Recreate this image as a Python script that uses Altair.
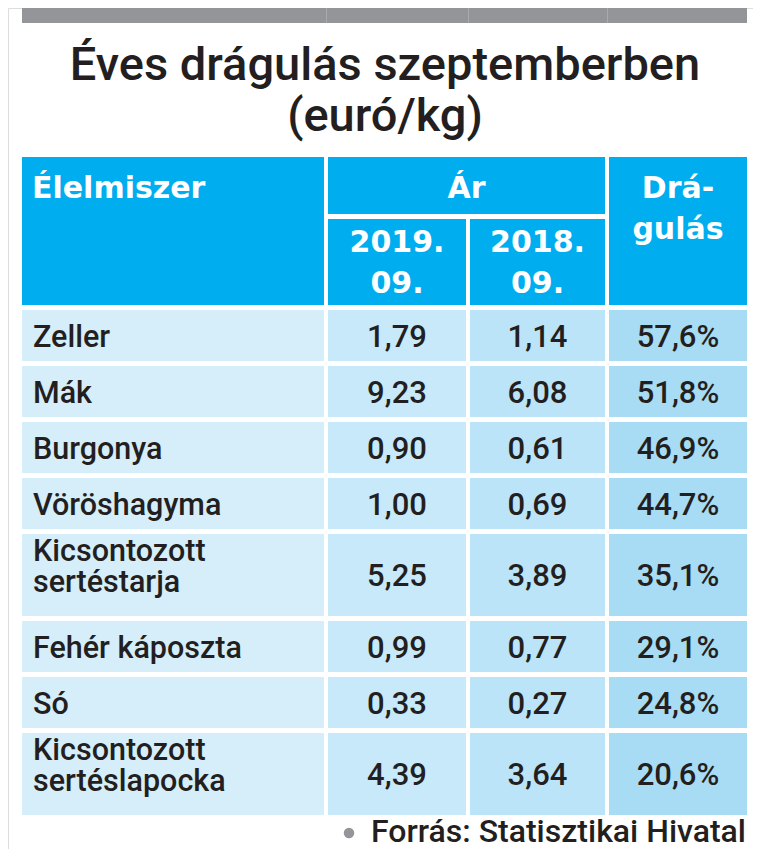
import altair as alt
import pandas as pd

# ---------------- data ----------------
title_lines = ["Éves drágulás szeptemberben", "(euró/kg)"]
head_food = "Élelmiszer"
head_price = "Ár"
head_change = "Drá-\ngulás"
head_years = ["2019.\n09.", "2018.\n09."]
foods = ["Zeller", "Mák", "Burgonya", "Vöröshagyma",
         "Kicsontozott\nsertéstarja", "Fehér káposzta", "Só",
         "Kicsontozott\nsertéslapocka"]
price_2019 = [1.79, 9.23, 0.90, 1.00, 5.25, 0.99, 0.33, 4.39]
price_2018 = [1.14, 6.08, 0.61, 0.69, 3.89, 0.77, 0.27, 3.64]
change_pct = [57.6, 51.8, 46.9, 44.7, 35.1, 29.1, 24.8, 20.6]
source = "Forrás: Statisztikai Hivatal"

# ---------------- layout (page pixels) ----------------
cols = [(22, 324), (328, 466), (470, 605), (609, 747)]
body_fill = ["#D6EEFA", "#C7E9F9", "#BCE4F8", "#A8DCF5"]
HEAD = "#00AEEF"
GRAY = "#939598"
DARK = "#231F20"
BODY_FONT = "Roboto"
head_top, head_mid, sub_top, head_bot = 157, 214, 219, 305
row_top0, single_h, double_h, gap = 310, 51, 82, 5

def fmt(v, d):
    return f"{v:.{d}f}".replace(".", ",")

rects = []
rects.append(dict(x=22, x2=747, y=8, y2=23, c=GRAY))
for xs in (326, 468, 607):
    rects.append(dict(x=xs, x2=xs + 1, y=8, y2=23, c="#A9AAAD"))
rects.append(dict(x=cols[0][0], x2=cols[0][1], y=head_top, y2=head_bot, c=HEAD))
rects.append(dict(x=cols[1][0], x2=cols[2][1], y=head_top, y2=head_mid, c=HEAD))
rects.append(dict(x=cols[1][0], x2=cols[1][1], y=sub_top, y2=head_bot, c=HEAD))
rects.append(dict(x=cols[2][0], x2=cols[2][1], y=sub_top, y2=head_bot, c=HEAD))
rects.append(dict(x=cols[3][0], x2=cols[3][1], y=head_top, y2=head_bot, c=HEAD))

name_left, body_center = [], []
top = row_top0
for i, name in enumerate(foods):
    two = "\n" in name
    h = double_h if two else single_h
    for j, (a, b) in enumerate(cols):
        rects.append(dict(x=a, x2=b, y=top, y2=top + h, c=body_fill[j]))
    name_left.append(dict(x=33, y=(top + 27) if two else (top + h / 2 + 11), t=name))
    by = top + h / 2 + 11
    vals = [fmt(price_2019[i], 2), fmt(price_2018[i], 2), fmt(change_pct[i], 1) + "%"]
    for j, v in enumerate(vals):
        a, b = cols[j + 1]
        body_center.append(dict(x=(a + b) / 2, y=by, t=v))
    top += h + gap

head_center = [
    dict(x=(cols[1][0] + cols[2][1]) / 2, y=198, t=head_price),
    dict(x=(cols[3][0] + cols[3][1]) / 2, y=198, t=head_change),
]
for j, yl in enumerate(head_years):
    a, b = cols[j + 1]
    head_center.append(dict(x=(a + b) / 2, y=252, t=yl))
head_left = [dict(x=32, y=198, t=head_food)]
titles = [dict(x=385, y=80, t=title_lines[0]), dict(x=385, y=131, t=title_lines[1])]
src = [dict(x=746, y=842, t=source)]
bullet = [dict(x=349, y=833)]

# ---------------- chart ----------------
XS = alt.Scale(domain=[8, 753], nice=False, zero=False)
YS = alt.Scale(domain=[8, 849], nice=False, zero=False, reverse=True)

def X(f="x"):
    return alt.X(f, type="quantitative", scale=XS, axis=None)

def Y(f="y"):
    return alt.Y(f, type="quantitative", scale=YS, axis=None)

rect_layer = alt.Chart(pd.DataFrame(rects)).mark_rect().encode(
    x=X(), x2="x2", y=Y(), y2="y2", color=alt.Color("c:N", scale=None))

def text_layer(rows, align, font, size, weight, color, lh):
    return alt.Chart(pd.DataFrame(rows)).mark_text(
        align=align, baseline="alphabetic", font=font, fontSize=size,
        fontWeight=weight, color=color, lineBreak="\n", lineHeight=lh
    ).encode(x=X(), y=Y(), text="t:N")

layers = [
    rect_layer,
    text_layer(titles, "center", BODY_FONT, 47, 500, DARK, 51),
    text_layer(head_left, "left", "DejaVu Sans", 30, "bold", "white", 40),
    text_layer(head_center, "center", "DejaVu Sans", 30, "bold", "white", 41),
    text_layer(name_left, "left", BODY_FONT, 30.5, 500, DARK, 31),
    text_layer(body_center, "center", BODY_FONT, 31, 500, DARK, 31),
    text_layer(src, "right", BODY_FONT, 32, 500, DARK, 32),
    alt.Chart(pd.DataFrame(bullet)).mark_circle(size=110, color=GRAY, opacity=1).encode(
        x=X(), y=Y()),
]

chart = alt.layer(*layers).properties(
    width=745, height=841, padding=0, autosize=alt.AutoSizeParams(type="none")
).configure_view(stroke=None).configure(background="white")

chart.save("out.html", embed_options={"renderer": "svg", "actions": False})
